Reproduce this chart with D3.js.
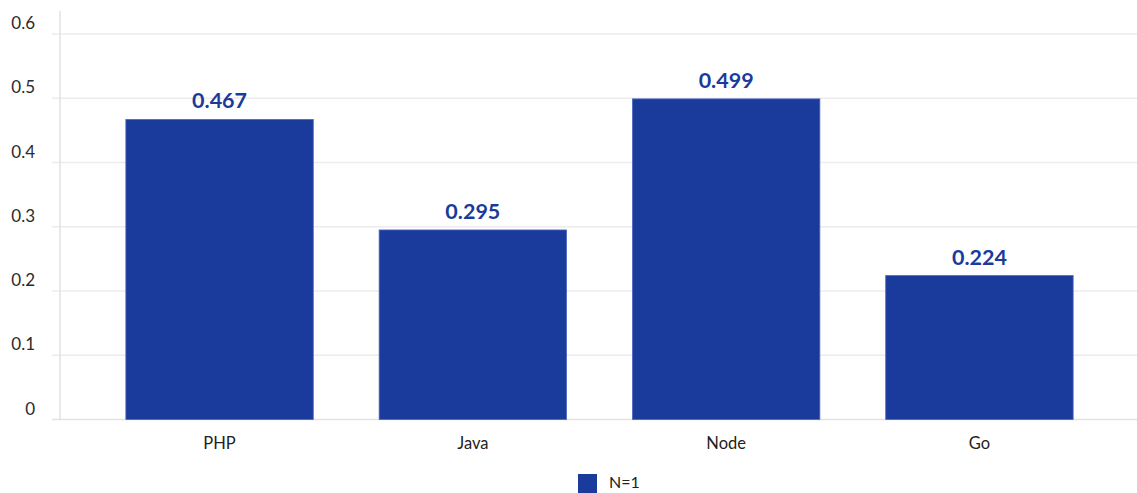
<!DOCTYPE html>
<html>
<head>
<meta charset="utf-8">
<script src="https://cdn.jsdelivr.net/npm/d3@7"></script>
<style>
  body { margin: 0; background: #fff; }
  svg { display: block; font-family: Lato, "Open Sans", sans-serif; }
</style>
</head>
<body>
<svg width="1137" height="493"></svg>
<script>
// Chart data
const categories = ["PHP", "Java", "Node", "Go"];
const values = [0.467, 0.295, 0.499, 0.224];
const yTicks = [0, 0.1, 0.2, 0.3, 0.4, 0.5, 0.6];
const seriesName = "N=1";

const BAR_COLOR = "#1a3a9c";

const svg = d3.select("svg"),
    width = +svg.attr("width"),
    height = +svg.attr("height");

// plot area bounds
const plotLeft = 60, plotRight = 1139, plotTop = 34, plotBottom = 419.5;

let x = d3.scaleBand().domain(categories).range([plotLeft, plotRight]).padding(0.26);
let y = d3.scaleLinear().domain([0, 0.6]).range([plotBottom, plotTop]);

// gridlines
svg.append("g")
    .selectAll("line")
    .data(yTicks)
    .enter().append("line")
    .attr("x1", 52)
    .attr("x2", width)
    .attr("y1", d => y(d))
    .attr("y2", d => y(d))
    .attr("stroke", d => d === 0 ? "#e2e2e6" : "#ececef")
    .attr("stroke-width", 1.5);

// y axis line
svg.append("line")
    .attr("x1", plotLeft).attr("x2", plotLeft)
    .attr("y1", 11).attr("y2", plotBottom)
    .attr("stroke", "#e2e2e6")
    .attr("stroke-width", 1.5);

// y tick labels
svg.append("g")
    .selectAll("text")
    .data(yTicks)
    .enter().append("text")
    .attr("x", 35)
    .attr("y", d => y(d) - 5)
    .attr("text-anchor", "end")
    .attr("font-size", 17)
    .attr("fill", "#2a2a2a")
    .text(d => d === 0 ? "0" : d3.format(".1f")(d));

// bars
svg.append("g")
    .selectAll("rect")
    .data(categories)
    .enter().append("rect")
    .attr("x", d => x(d))
    .attr("width", x.bandwidth())
    .attr("y", (d, i) => y(values[i]))
    .attr("height", (d, i) => plotBottom - y(values[i]))
    .attr("fill", BAR_COLOR)
    .attr("stroke", "#4f68bd")
    .attr("stroke-width", 0.8);

// value labels
svg.append("g")
    .selectAll("text")
    .data(categories)
    .enter().append("text")
    .attr("x", d => x(d) + x.bandwidth() / 2)
    .attr("y", (d, i) => y(values[i]) - 11)
    .attr("text-anchor", "middle")
    .attr("font-size", 21.5)
    .attr("font-weight", "bold")
    .attr("fill", BAR_COLOR)
    .text((d, i) => values[i].toFixed(3));

// x labels
svg.append("g")
    .selectAll("text")
    .data(categories)
    .enter().append("text")
    .attr("x", d => x(d) + x.bandwidth() / 2)
    .attr("y", 449)
    .attr("text-anchor", "middle")
    .attr("font-size", 16.5)
    .attr("fill", "#222")
    .text(d => d);

// legend
svg.append("rect")
    .attr("x", 578).attr("y", 474)
    .attr("width", 19).attr("height", 19)
    .attr("fill", BAR_COLOR);

svg.append("text")
    .attr("x", 609).attr("y", 488)
    .attr("font-size", 16)
    .attr("fill", "#222")
    .text(seriesName);
</script>
</body>
</html>
